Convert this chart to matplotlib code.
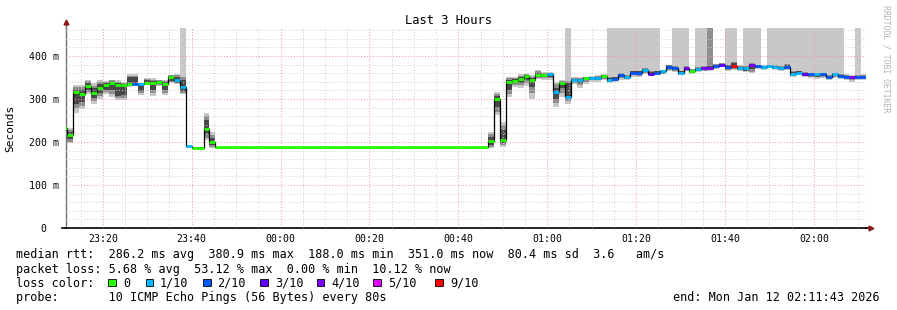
import matplotlib
matplotlib.use('Agg')
import matplotlib.pyplot as plt
import matplotlib.dates as mdates
from matplotlib.patches import Rectangle
from matplotlib.ticker import MultipleLocator, FuncFormatter
from datetime import datetime

plt.rcParams['font.family'] = ['DejaVu Sans Mono']

W, H = 897, 310

# time window and the rrd steps (80 s each)
view_start = datetime(2026, 1, 11, 23, 11, 43)
view_end = datetime(2026, 1, 12, 2, 11, 43)
first_step = datetime(2026, 1, 11, 23, 10, 40)
step_seconds = 80

# number of 80 s steps each entry lasts
span = [1, 1, 1, 1, 1, 1, 1, 1, 1, 1,
        1, 1, 1, 1, 1, 1, 1, 1, 1, 1,
        1, 1, 1, 1, 1, 1,
        46,
        1, 1, 1, 1, 1, 1, 1, 1,
        1, 1, 1, 1, 1, 1, 1, 1, 1, 1,
        1, 1, 1, 1, 1, 1, 1, 1, 1, 1,
        1, 1, 1, 1, 1, 1, 1, 1, 1, 1,
        1, 1, 1, 1, 1, 1, 1, 1, 1, 1,
        1, 1, 1, 1, 1, 1, 1, 1, 1, 1,
        1, 1, 1, 1, 1, 1]

# median rtt in ms
median = [232, 216, 316, 312, 329, 315, 326, 332, 337, 333,
          333, 334, 334, 334, 337, 337, 339, 334, 351, 343,
          328, 190, 187, 187, 231, 199,
          188,
          202, 299, 204, 340, 342, 347, 353, 345,
          355, 355, 357, 316, 337, 305, 345, 345, 349, 349,
          349, 353, 345, 347, 355, 351, 361, 361, 367, 359,
          361, 364, 374, 371, 361, 372, 365, 369, 371, 372,
          377, 380, 374, 376, 372, 371, 380, 376, 374, 377,
          374, 373, 374, 359, 361, 357, 357, 357, 357, 351,
          357, 353, 351, 351, 351, 351]

# lost pings out of 10
loss = [0, 0, 0, 0, 0, 0, 0, 0, 0, 0,
        0, 0, 2, 1, 0, 0, 0, 0, 0, 1,
        1, 1, 0, 0, 0, 0,
        0,
        0, 0, 0, 0, 0, 0, 0, 0,
        0, 0, 1, 1, 0, 1, 1, 1, 0, 1,
        1, 0, 1, 2, 2, 1, 2, 2, 1, 3,
        2, 1, 2, 2, 1, 4, 0, 1, 4, 4,
        2, 3, 2, 9, 1, 1, 4, 2, 1, 1,
        1, 1, 2, 1, 1, 3, 2, 1, 2, 2,
        1, 2, 2, 4, 2, 2]

# smoke: outer, middle and inner ping ranges (ms)
smoke_lo = [196, 197, 268, 276, 312, 289, 301, 312, 305, 297,
            297, 328, 330, 309, 332, 306, 330, 309, 336, 334,
            312, 188, 186, 186, 204, 185,
            188,
            185, 262, 189, 305, 328, 326, 330, 299,
            347, 345, 345, 281, 305, 289, 335, 326, 335, 340,
            340, 345, 338, 340, 345, 343, 352, 350, 358, 353,
            355, 357, 365, 362, 355, 364, 359, 362, 364, 365,
            370, 374, 366, 368, 366, 362, 361, 369, 368, 372,
            368, 366, 368, 352, 355, 351, 349, 347, 349, 343,
            349, 347, 345, 340, 345, 343]
smoke_hi = [258, 232, 332, 332, 345, 336, 345, 342, 345, 343,
            339, 357, 357, 338, 348, 348, 345, 343, 356, 359,
            500, 192, 188, 188, 267, 223,
            188,
            223, 316, 247, 351, 351, 357, 359, 355,
            367, 362, 362, 340, 343, 500, 350, 350, 352, 353,
            355, 357, 500, 500, 500, 500, 500, 500, 500, 500,
            500, 368, 380, 500, 500, 500, 370, 500, 500, 500,
            382, 384, 500, 500, 378, 500, 500, 500, 378, 500,
            500, 500, 500, 500, 500, 500, 500, 500, 500, 500,
            500, 500, 357, 355, 500, 357]
mid_lo = [203, 200, 278, 284, 316, 296, 308, 316, 312, 303,
          303, 331, 333, 313, 334, 313, 332, 314, 339, 336,
          315, 188, 186, 186, 210, 188,
          188,
          188, 270, 192, 312, 332, 332, 338, 315,
          349, 348, 348, 290, 315, 296, 338, 333, 339, 343,
          343, 347, 340, 342, 348, 346, 355, 354, 361, 355,
          357, 359, 367, 365, 357, 366, 361, 364, 366, 367,
          372, 376, 368, 370, 368, 364, 363, 371, 370, 373,
          370, 368, 370, 354, 357, 353, 351, 350, 351, 346,
          351, 349, 347, 344, 347, 346]
mid_hi = [250, 228, 328, 328, 342, 330, 340, 340, 343, 340,
          337, 354, 353, 336, 346, 345, 344, 341, 355, 356,
          352, 192, 188, 188, 260, 217,
          188,
          218, 312, 240, 348, 349, 354, 357, 352,
          364, 360, 360, 334, 341, 342, 349, 349, 351, 352,
          353, 356, 350, 352, 360, 356, 366, 366, 372, 365,
          366, 367, 379, 377, 366, 377, 369, 374, 376, 500,
          381, 383, 380, 386, 377, 376, 384, 380, 377, 380,
          378, 377, 382, 364, 366, 362, 361, 361, 361, 356,
          361, 358, 356, 354, 356, 355]
core_lo = [212, 206, 288, 292, 320, 302, 314, 322, 320, 308,
           310, 334, 336, 318, 335, 322, 334, 320, 342, 338,
           318, 189, 186, 186, 218, 192,
           188,
           193, 282, 197, 322, 336, 338, 344, 328,
           351, 350, 351, 300, 325, 302, 341, 338, 343, 345,
           345, 349, 342, 344, 351, 348, 357, 357, 363, 357,
           359, 361, 369, 367, 359, 368, 362, 366, 368, 369,
           374, 377, 370, 372, 369, 366, 370, 372, 371, 374,
           371, 370, 371, 356, 358, 354, 353, 352, 353, 348,
           353, 350, 348, 347, 348, 348]
core_hi = [242, 224, 322, 320, 338, 325, 334, 337, 340, 337,
           335, 350, 350, 335, 343, 342, 342, 339, 353, 352,
           345, 191, 188, 188, 250, 210,
           188,
           212, 306, 228, 344, 346, 351, 356, 349,
           360, 358, 359, 326, 339, 336, 347, 347, 350, 351,
           351, 355, 348, 350, 358, 354, 364, 364, 370, 363,
           364, 366, 378, 375, 364, 375, 368, 372, 374, 376,
           380, 382, 378, 384, 375, 374, 382, 378, 376, 379,
           376, 375, 380, 362, 364, 360, 359, 359, 359, 354,
           359, 356, 354, 353, 354, 353]

loss_colors = {0: '#26ff00', 1: '#00b8ff', 2: '#0059ff', 3: '#5e00ff',
               4: '#7e00ff', 5: '#dd00ff', 9: '#ff0000'}
legend_loss = [0, 1, 2, 3, 4, 5, 9]
legend_labels = ['0', '1/10', '2/10', '3/10', '4/10', '5/10', '9/10']

fig = plt.figure(figsize=(W / 100, H / 100), dpi=100)
fig.set_facecolor('white')
ax = fig.add_axes([66 / W, (H - 228) / H, 800 / W, 200 / H])

step_days = step_seconds / 86400.0
edges = [mdates.date2num(first_step)]
for s in span:
    edges.append(edges[-1] + s * step_days)
left = edges[:-1]
widths = [s * step_days for s in span]

bands = [(smoke_lo, smoke_hi, '#c8c8c8'),
         (mid_lo, mid_hi, '#8e8e8e'),
         (core_lo, core_hi, '#484848')]
for lo, hi, col in bands:
    ax.bar(left, [h - l for l, h in zip(lo, hi)], width=widths, bottom=lo,
           align='edge', color=col, linewidth=0, antialiased=False, zorder=1)

ax.step(edges, median + [median[-1]], where='post', color='black', lw=0.9, zorder=3)
ax.hlines(median, left, edges[1:], colors=[loss_colors[l] for l in loss],
          lw=2.0, zorder=4)

ax.set_xlim(mdates.date2num(view_start), mdates.date2num(view_end))
ax.set_ylim(0, 465)

ax.xaxis.set_major_locator(mdates.MinuteLocator(byminute=[0, 20, 40]))
ax.xaxis.set_minor_locator(mdates.MinuteLocator(byminute=range(0, 60, 5)))
ax.xaxis.set_major_formatter(mdates.DateFormatter('%H:%M'))
ax.yaxis.set_major_locator(MultipleLocator(100))
ax.yaxis.set_minor_locator(MultipleLocator(20))
ax.yaxis.set_major_formatter(FuncFormatter(lambda v, p: '0  ' if v == 0 else '%d m' % v))

ax.grid(which='minor', color='#cccccc', linestyle=(0, (1, 2)), lw=0.7)
ax.grid(which='major', color='#f09a9a', linestyle=(0, (1, 2)), lw=0.7)
ax.set_axisbelow(False)

ax.tick_params(axis='both', which='both', length=0, labelsize=7.1)
ax.tick_params(axis='y', which='major', pad=5)
ax.tick_params(axis='x', which='major', pad=4)
for side in ['top', 'right']:
    ax.spines[side].set_visible(False)
ax.spines['bottom'].set_linewidth(1.2)
ax.spines['left'].set_linewidth(1.0)
ax.spines['left'].set_color('#707070')

# axis arrows and the small stub left of the origin
ax.plot([-0.005, 0.0], [0, 0], color='black', lw=1.2, transform=ax.transAxes, clip_on=False)
ax.plot([1.0, 1.004], [0, 0], color='black', lw=1.2, transform=ax.transAxes, clip_on=False)
ax.plot(1.006, 0, marker='>', color='#8b1a1a', markersize=3.5, transform=ax.transAxes, clip_on=False)
ax.plot([0, 0], [1.0, 1.02], color='#707070', lw=1.0, transform=ax.transAxes, clip_on=False)
ax.plot(0, 1.03, marker='^', color='#8b1a1a', markersize=3.5, transform=ax.transAxes, clip_on=False)


def fx(x):
    return x / W


def fy(y):
    return 1 - y / H


fig.text(0.5, fy(20), 'Last 3 Hours', ha='center', va='center', fontsize=8.7)
fig.text(fx(10), fy(128), 'Seconds', rotation=90, ha='center', va='center', fontsize=8)
fig.text(fx(886), fy(59), 'RRDTOOL / TOBI OETIKER', rotation=270, ha='center', va='center',
         fontsize=5.9, color='#b4b4b4')

fs = 8.5
fig.text(fx(16), fy(258.3),
         'median rtt:  286.2 ms avg  380.9 ms max  188.0 ms min  351.0 ms now  80.4 ms sd  3.6   am/s',
         va='baseline', fontsize=fs)
fig.text(fx(16), fy(272.5),
         'packet loss: 5.68 % avg  53.12 % max  0.00 % min  10.12 % now',
         va='baseline', fontsize=fs)
fig.text(fx(16), fy(286.6), 'loss color:', va='baseline', fontsize=fs)
fig.text(fx(16), fy(300.7), 'probe:       10 ICMP Echo Pings (56 Bytes) every 80s',
         va='baseline', fontsize=fs)
fig.text(fx(880), fy(300.7), 'end: Mon Jan 12 02:11:43 2026', ha='right', va='baseline', fontsize=fs)

box_x = [108.3, 145.7, 203.3, 260.0, 316.7, 373.3, 435.0]
label_x = [123.3, 160.0, 217.3, 275.0, 331.7, 388.3, 450.0]
for bx, lx, l, lab in zip(box_x, label_x, legend_loss, legend_labels):
    fig.patches.append(Rectangle((fx(bx), fy(286)), 7.5 / W, 7.5 / H, transform=fig.transFigure,
                                 facecolor=loss_colors[l], edgecolor='black', lw=0.6))
    fig.text(fx(lx), fy(286.6), lab, va='baseline', fontsize=fs)

fig.savefig('out.png', dpi=100)
